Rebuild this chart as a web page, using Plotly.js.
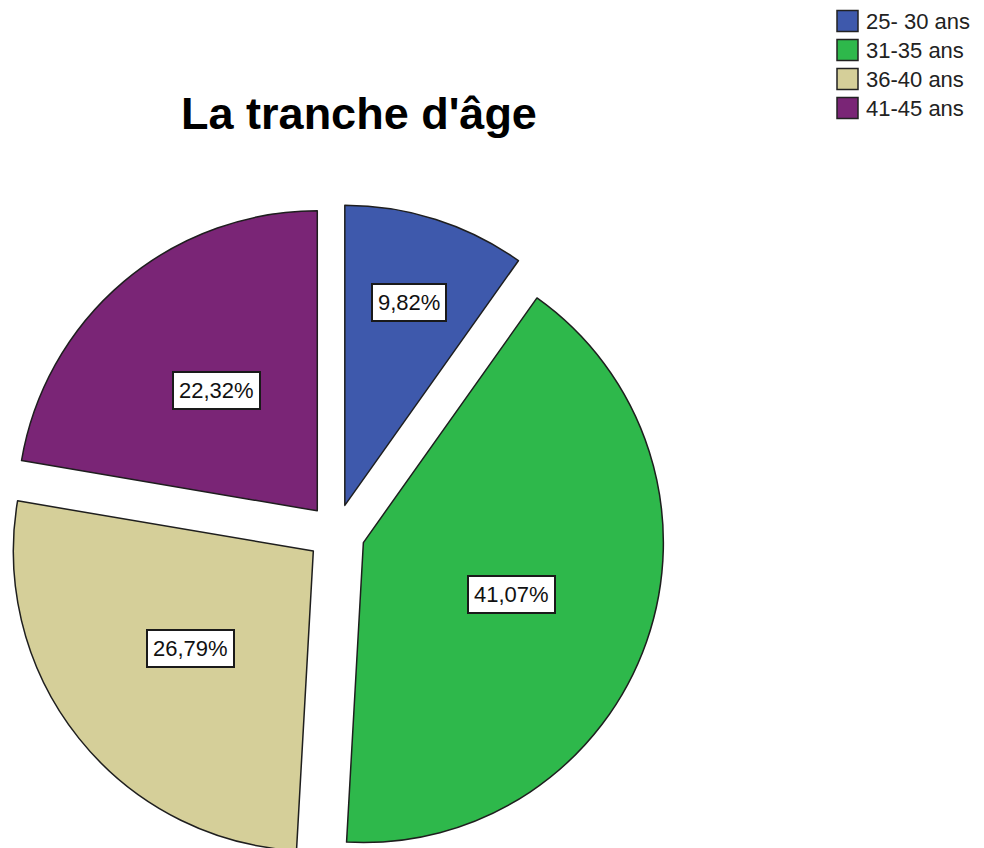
<!DOCTYPE html>
<html>
<head>
<meta charset="utf-8">
<script src="https://cdn.plot.ly/plotly-3.0.1.min.js"></script>
<style>
  html, body { margin: 0; padding: 0; background: #ffffff; overflow: hidden; }
  #chart { width: 984px; height: 870px; }
</style>
</head>
<body>
<div id="chart"></div>
<script>
// ---- data ----
var categories = ["25- 30 ans", "31-35 ans", "36-40 ans", "41-45 ans"];
var counts = [11, 46, 30, 25];
var colors = ["#3E59AC", "#2EB84B", "#D5CF99", "#7A2576"];
var chartTitle = "La tranche d'âge";

// ---- geometry (pixels) ----
var W = 984, H = 870;
var pieLeft = 7, pieRight = 665, pieTop = 204, pieBottom = 862;
var pullFrac = 0.0967;

function px2x(px) { return px / W; }
function px2y(py) { return 1 - py / H; }

var total = counts.reduce(function (a, b) { return a + b; }, 0);
var pct = counts.map(function (v) { return v / total * 100; });
function fmtPct(p) { return p.toFixed(2).replace('.', ',') + '%'; }

var cx = (pieLeft + pieRight) / 2;
var cy = (pieTop + pieBottom) / 2;
var r = ((pieRight - pieLeft) / 2) / (1 + pullFrac);

var annotations = [];
var shapes = [];

// percentage labels boxed, placed from the slice angles
var cum = 0;
for (var i = 0; i < counts.length; i++) {
  var frac = counts[i] / total;
  var a0 = cum * 2 * Math.PI;
  var a1 = (cum + frac) * 2 * Math.PI;
  cum += frac;
  var mid = (a0 + a1) / 2;
  var half = (a1 - a0) / 2;
  var d = Math.max(0.62 * r, 0.245 * r / Math.sin(Math.min(half, Math.PI / 2)));
  var lx = cx + d * Math.sin(mid);
  var ly = cy - d * Math.cos(mid);
  annotations.push({
    xref: 'paper', yref: 'paper',
    x: px2x(lx), y: px2y(ly),
    xanchor: 'center', yanchor: 'middle',
    text: fmtPct(pct[i]),
    showarrow: false,
    bgcolor: '#ffffff',
    bordercolor: '#1a1a1a',
    borderwidth: 2,
    borderpad: 5,
    font: { family: 'Liberation Sans, Arial, sans-serif', size: 22, color: '#111111' }
  });
}

// custom legend (top right)
var legX0 = 837, legSq = 21, legTextX = 864, legY0 = 21, legStep = 29;
for (var j = 0; j < categories.length; j++) {
  var yc = legY0 + j * legStep;
  shapes.push({
    type: 'rect', xref: 'paper', yref: 'paper',
    x0: px2x(legX0), x1: px2x(legX0 + legSq),
    y0: px2y(yc + legSq / 2), y1: px2y(yc - legSq / 2),
    fillcolor: colors[j],
    line: { color: '#222222', width: 1.5 }
  });
  annotations.push({
    xref: 'paper', yref: 'paper',
    x: px2x(legTextX), y: px2y(yc),
    xanchor: 'left', yanchor: 'middle',
    text: categories[j],
    showarrow: false,
    font: { family: 'Liberation Sans, Arial, sans-serif', size: 22, color: '#222222' }
  });
}

var trace = {
  type: 'pie',
  labels: categories,
  values: counts,
  sort: false,
  direction: 'clockwise',
  rotation: 0,
  pull: counts.map(function () { return pullFrac; }),
  marker: { colors: colors, line: { color: '#1e1e1e', width: 1.5 } },
  textinfo: 'none',
  hoverinfo: 'label+percent',
  showlegend: false,
  domain: { x: [px2x(pieLeft), px2x(pieRight)], y: [px2y(pieBottom), px2y(pieTop)] }
};

var layout = {
  width: W, height: H,
  margin: { l: 0, r: 0, t: 0, b: 0, pad: 0 },
  paper_bgcolor: '#ffffff',
  plot_bgcolor: '#ffffff',
  showlegend: false,
  title: {
    text: chartTitle,
    x: 359 / W, xanchor: 'center', xref: 'paper',
    y: 1 - 113 / H, yanchor: 'middle', yref: 'container',
    font: { family: 'Liberation Sans, Arial, sans-serif', size: 45, color: '#000000', weight: 'bold' }
  },
  annotations: annotations,
  shapes: shapes
};

Plotly.newPlot('chart', [trace], layout, { displayModeBar: false, staticPlot: true });
</script>
</body>
</html>
